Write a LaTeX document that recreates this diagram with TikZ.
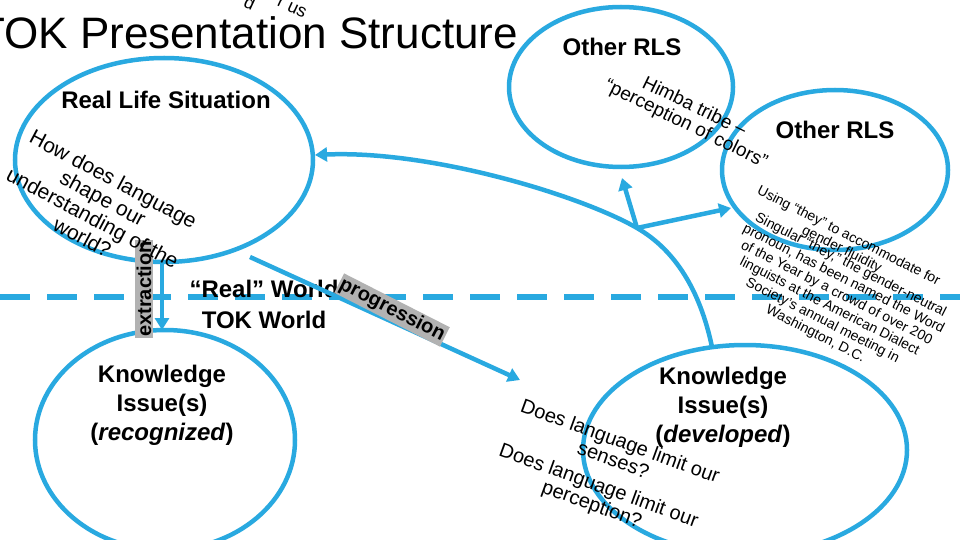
\documentclass[tikz,border=0pt]{standalone}
\usepackage{fontspec}
\setmainfont{Liberation Sans}
\usetikzlibrary{arrows.meta}
\definecolor{cy}{HTML}{29A9E0}
\begin{document}
\begin{tikzpicture}[x=1pt,y=-1pt,
  ell/.style={draw=cy,line width=4.5pt},
  con/.style={draw=cy,line width=4.5pt,-{Triangle[length=12pt,width=14pt]}},
  lbl/.style={font=\bfseries\fontsize{24}{27}\selectfont,align=center},
  rot/.style={align=center,inner sep=0pt},
  tag/.style={fill=black!30,font=\bfseries\fontsize{20}{21}\selectfont,inner sep=1.5pt}]
\useasboundingbox (0,0) rectangle (960,540);
\clip (0,0) rectangle (960,540);
\fill[white] (0,0) rectangle (960,540);
% dashed divider
\coordinate (dl) at (0,297); \coordinate (dr) at (960,297);
\draw[cy,line width=6pt,dash pattern=on 30pt off 17pt] (dl) -- (dr);
% ellipses
\draw[ell] (164,160) ellipse [x radius=149,y radius=102];
\draw[ell] (621,87) ellipse [x radius=112,y radius=80];
\draw[ell] (835,170) ellipse [x radius=113,y radius=80];
\draw[ell] (165,440) ellipse [x radius=130,y radius=110];
\draw[ell] (745,450) ellipse [x radius=162,y radius=105];
% title
\node[anchor=west,font=\fontsize{44}{48}\selectfont,inner sep=0pt] (title) at (-22,33) {TOK Presentation Structure};
\node[rotate=-25,font=\fontsize{18}{20}\selectfont,inner sep=0pt] (fr1) at (250,3) {d};
\node[rotate=-25,font=\fontsize{18}{20}\selectfont,inner sep=0pt] (fr2) at (292,8) {r us};
% labels
\node[lbl] (t1) at (166,100) {Real Life Situation};
\node[lbl] (t2) at (622,47) {Other RLS};
\node[lbl] (t3) at (835,130) {Other RLS};
\node[lbl] (rw) at (264,289) {“Real” World};
\node[lbl] (tw) at (264,320) {TOK World};
\node[lbl,font=\bfseries\fontsize{24}{29}\selectfont] (ki1) at (162,405) {Knowledge\\Issue(s)\\(\textit{recognized})};
\node[lbl,font=\bfseries\fontsize{24}{29}\selectfont] (ki2) at (723,407) {Knowledge\\Issue(s)\\(\textit{developed})};
% connectors
\coordinate (e1) at (162,262);
\coordinate (e2) at (162,330);
\draw[con] (e1) -- (e2);
\coordinate (p1) at (250,257);
\coordinate (p2) at (520,380);
\draw[con] (p1) -- (p2);
\coordinate (hub) at (637,228);
\coordinate (kt) at (712,347);
\coordinate (re) at (315,155);
\draw[con] (kt) .. controls (700,290) and (675,250) .. (hub) .. controls (580,195) and (430,150) .. (re);
\coordinate (o1b) at (622,178);
\coordinate (o2l) at (731,208);
\draw[con] (hub) -- (o1b);
\draw[con] (hub) -- (o2l);
% tags
\node[tag,rotate=90] (ex) at (144,289) {extraction};
\node[tag,rotate=-27] (pr) at (392,310) {progression};
% rotated texts
\node[rot,rotate=-28,font=\fontsize{21}{22}\selectfont] (q1) at (98,208) {How does language\\shape our\\understanding of the\\world?};
\node[rot,rotate=-26,font=\fontsize{19}{19}\selectfont] (q2) at (690,116) {Himba tribe –\\“perception of colors”};
\node[rot,rotate=-27,font=\fontsize{14}{15}\selectfont] (q3) at (845,243) {Using “they” to accommodate for\\gender fluidity};
\node[rot,rotate=-27,font=\fontsize{14}{15.5}\selectfont] (q4) at (833,300) {Singular “they,” the gender-neutral\\pronoun, has been named the Word\\of the Year by a crowd of over 200\\linguists at the American Dialect\\Society's annual meeting in\\Washington, D.C.};
\node[rot,rotate=-20,font=\fontsize{20}{20}\selectfont] (q5) at (617,450) {Does language limit our\\senses?};
\node[rot,rotate=-20,font=\fontsize{20}{20}\selectfont] (q6) at (595,496) {Does language limit our\\perception?};
\end{tikzpicture}
\end{document}
